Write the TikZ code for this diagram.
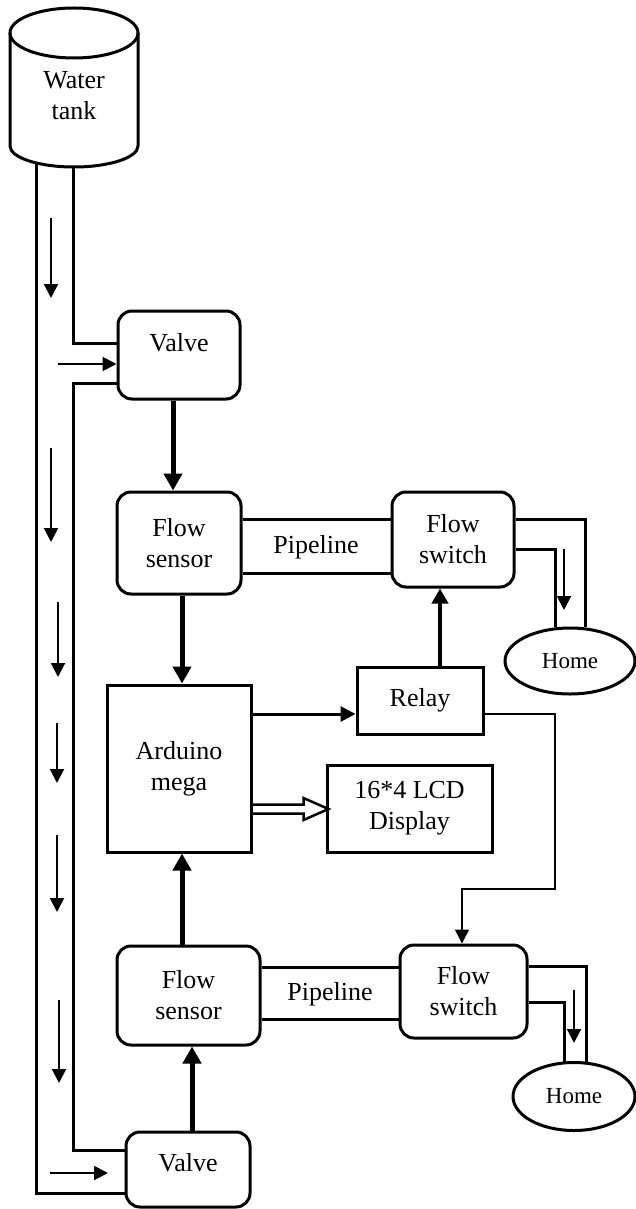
\documentclass[tikz,border=0pt]{standalone}
\usepackage{fontspec}
\setmainfont{Liberation Serif}
\usetikzlibrary{arrows.meta,shapes.geometric,calc}
\begin{document}
\begin{tikzpicture}[x=1pt,y=-1pt,
 box/.style={draw, line width=3pt, rounded corners=14pt, inner sep=0pt},
 sqbox/.style={draw, line width=3pt, inner sep=0pt},
 txt/.style={font=\fontsize{26}{31}\selectfont, align=center, inner sep=0pt},
 home/.style={draw, ellipse, line width=3pt, inner sep=0pt, font=\fontsize{23}{27}\selectfont},
 pipe/.style={line width=3pt},
 flow/.style={line width=2pt, -{Triangle[length=14pt,width=14pt]}},
 sig/.style={line width=5pt, -{Triangle[length=17pt,width=18pt]}},
]
\useasboundingbox (0,0) rectangle (635,1209);
% water tank
\draw[line width=3pt] (10,33) -- (10,146) arc[start angle=180, end angle=360, x radius=64pt, y radius=21pt] -- (138,33);
\draw[line width=3pt] (74,33) ellipse[x radius=64pt, y radius=25pt];
\node[txt] (tank) at (74,96) {Water\\tank};
\coordinate (tankL) at (36,163);
\coordinate (tankI) at (73,167);
% boxes
\node[box, minimum width=122pt, minimum height=88pt] (valve1) at (179,355) {};
\node[txt] (valve1t) at (179,343) {Valve};
\node[box, txt, minimum width=124pt, minimum height=102pt] (fs1) at (179,543) {Flow\\sensor};
\node[box, txt, minimum width=122pt, minimum height=95pt] (fsw1) at (453,539.5) {Flow\\switch};
\node[home, minimum width=130pt, minimum height=66pt] (home1) at (570,661) {Home};
\node[sqbox, txt, minimum width=144pt, minimum height=167pt] (ard) at (179,768.5) {Arduino\\mega};
\node[sqbox, txt, minimum width=126pt, minimum height=67pt] (relay) at (420,700.5) {Relay};
\node[sqbox, txt, minimum width=165pt, minimum height=87pt] (lcd) at (409.5,808.5) {16*4 LCD\\Display};
\node[box, txt, minimum width=143pt, minimum height=99pt] (fs2) at (188.5,995.5) {Flow\\sensor};
\node[box, txt, minimum width=127pt, minimum height=93pt] (fsw2) at (463.5,991.5) {Flow\\switch};
\node[home, minimum width=122pt, minimum height=68pt] (home2) at (574,1096.5) {Home};
\node[box, minimum width=124pt, minimum height=75pt] (valve2) at (188,1169.5) {};
\node[txt] (valve2t) at (188,1163) {Valve};
% main pipes
\draw[pipe] (tankL) -- (36,1193) -- (valve2.west |- 0,1193);
\draw[pipe] (tankI) -- (73,343) -- (valve1.west |- 0,343);
\draw[pipe] (valve1.west |- 0,383) -- (73,383) -- (73,1150) -- (valve2.west |- 0,1150);
% flow arrows in pipe
\draw[flow] (51,218) -- (51,298);
\draw[flow] (51,448) -- (51,542);
\draw[flow] (58,602) -- (58,677);
\draw[flow] (57,723) -- (57,783);
\draw[flow] (57,835) -- (57,912);
\draw[flow] (59,1000) -- (59,1083);
\draw[flow] (58,364) -- (valve1.west |- 0,364);
\draw[flow] (50,1173) -- (108,1173);
% pipelines
\draw[pipe] (fs1.east |- 0,519) -- (fsw1.west |- 0,519);
\draw[pipe] (fs1.east |- 0,573) -- (fsw1.west |- 0,573);
\node[txt] (pl1) at (316,547) {Pipeline};
\draw[pipe] (fs2.east |- 0,967) -- (fsw2.west |- 0,967);
\draw[pipe] (fs2.east |- 0,1019) -- (fsw2.west |- 0,1019);
\node[txt] (pl2) at (330,994) {Pipeline};
% to homes
\draw[pipe] (fsw1.east |- 0,519) -- (585,519) -- (585,519 |- home1.65);
\draw[pipe] (fsw1.east |- 0,549) -- (555,549) -- (555,549 |- home1.115);
\draw[flow] (564,549) -- (564,610);
\draw[pipe] (fsw2.east |- 0,966) -- (586,966) -- (586,966 |- home2.70);
\draw[pipe] (fsw2.east |- 0,1002) -- (564,1002) -- (564,1002 |- home2.107);
\draw[flow] (574,990) -- (574,1043);
% signal arrows
\draw[sig] ([xshift=-6pt]valve1.south) -- ([xshift=-6pt]fs1.north);
\draw[sig] ([xshift=3pt]fs1.south) -- ([xshift=3pt]ard.north);
\draw[sig] ([xshift=-6.5pt]fs2.north) -- ([xshift=3pt]ard.south);
\draw[sig] ([xshift=4pt]valve2.north) -- ([xshift=3.5pt]fs2.south);
\draw[line width=3pt, -{Triangle[length=15pt,width=15pt]}] (ard.east |- 0,714) -- (relay.west |- 0,714);
\draw[line width=4pt, -{Triangle[length=15pt,width=16pt]}] (relay.north -| 440,0) -- (fsw1.south -| 440,0);
\draw[line width=1.5pt, -{Triangle[length=14pt,width=14pt]}] (relay.east |- 0,714) -- (555,714) -- (555,889) -- (462,889) -- (fsw2.north -| 462,0);
% double arrow to LCD
\coordinate (da) at (ard.east |- 0,809);
\coordinate (db) at (lcd.west |- 0,809);
\draw[line width=2.5pt, line join=miter] ($(da)+(0,-4.5)$) -- ($(db)+(-22,-4.5)$) -- ($(db)+(-22,-11)$) -- ($(db)+(3,0)$) -- ($(db)+(-22,11)$) -- ($(db)+(-22,4.5)$) -- ($(da)+(0,4.5)$);
\end{tikzpicture}
\end{document}
